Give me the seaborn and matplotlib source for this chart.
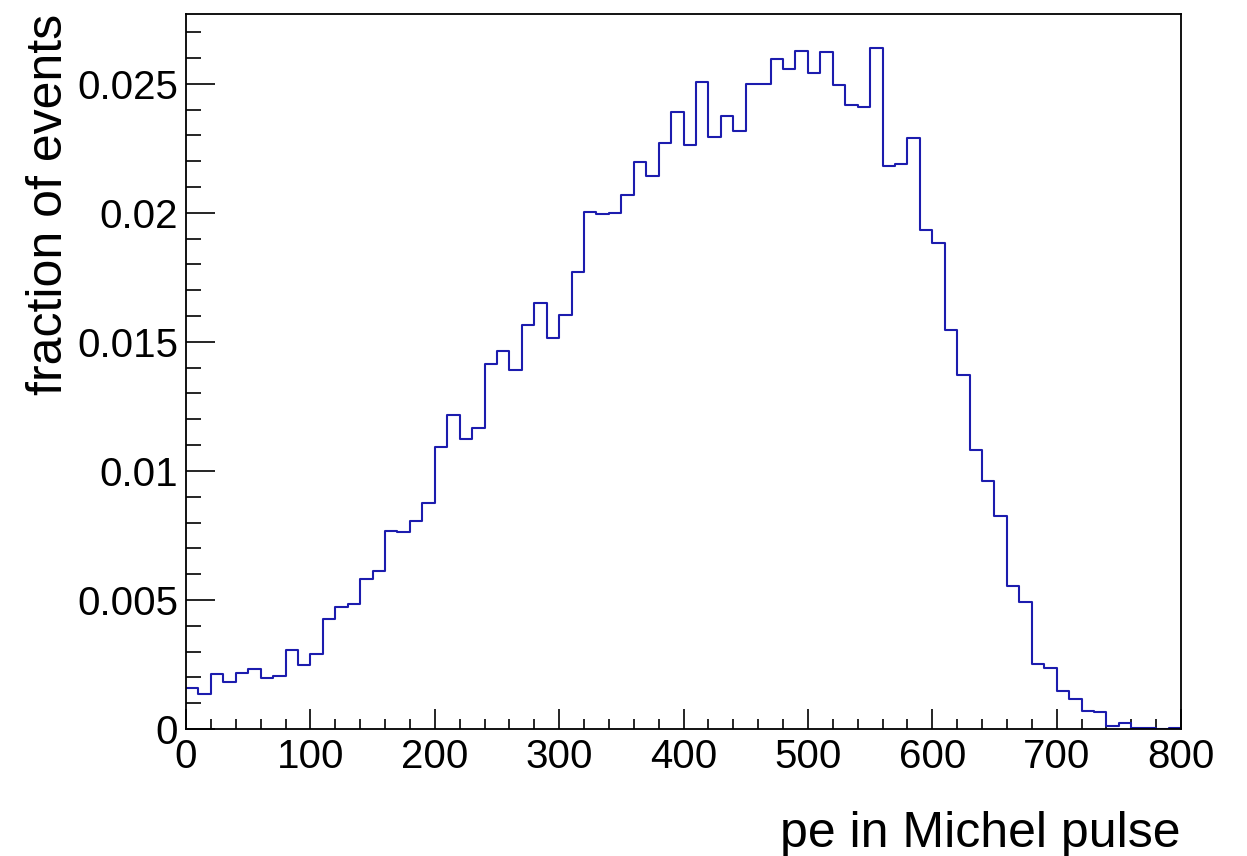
import numpy as np
import pandas as pd
import matplotlib
matplotlib.use("Agg")
import matplotlib.pyplot as plt
import seaborn as sns
from matplotlib.ticker import MultipleLocator, FuncFormatter

# ---- data ----
bin_edges = list(range(0, 810, 10))  # 80 bins of width 10 pe
fractions = [
    0.00160, 0.00134, 0.00213, 0.00183, 0.00217, 0.00234, 0.00196, 0.00205, 0.00307, 0.00249,
    0.00291, 0.00426, 0.00474, 0.00484, 0.00581, 0.00611, 0.00767, 0.00764, 0.00806, 0.00876,
    0.01094, 0.01217, 0.01123, 0.01168, 0.01413, 0.01466, 0.01389, 0.01566, 0.01651, 0.01516,
    0.01603, 0.01770, 0.02004, 0.01997, 0.02000, 0.02070, 0.02196, 0.02143, 0.02270, 0.02390,
    0.02261, 0.02508, 0.02295, 0.02376, 0.02315, 0.02500, 0.02500, 0.02594, 0.02557, 0.02625,
    0.02541, 0.02621, 0.02496, 0.02416, 0.02410, 0.02637, 0.02181, 0.02189, 0.02290, 0.01934,
    0.01881, 0.01544, 0.01372, 0.01081, 0.00962, 0.00827, 0.00554, 0.00491, 0.00253, 0.00238,
    0.00147, 0.00115, 0.00070, 0.00065, 0.00010, 0.00025, 0.00003, 0.00002, 0.00001, 0.00004,
]
x_ticks = [0, 100, 200, 300, 400, 500, 600, 700, 800]
y_ticks = [0, 0.005, 0.01, 0.015, 0.02, 0.025]
x_label = "pe in Michel pulse"
y_label = "fraction of events"

centers = [(a + b) / 2 for a, b in zip(bin_edges[:-1], bin_edges[1:])]
df = pd.DataFrame({"pe": centers, "frac": fractions})

sns.set_theme(style="white")
plt.rcParams["font.family"] = ["Liberation Sans", "DejaVu Sans"]

W, H = 1247, 856
fig = plt.figure(figsize=(W / 100, H / 100), dpi=100)
ax = fig.add_axes([186 / W, 1 - 729 / H, (1181 - 186) / W, (729 - 14) / H])

sns.histplot(data=df, x="pe", weights="frac", bins=bin_edges, element="step",
             fill=False, color="#1c1cae", linewidth=1.5, ax=ax)

ax.set_xlim(0, 800)
ax.set_ylim(0, 0.0277)

ax.xaxis.set_minor_locator(MultipleLocator(20))
ax.yaxis.set_minor_locator(MultipleLocator(0.001))
ax.set_xticks(x_ticks)
ax.set_yticks(y_ticks)
ax.yaxis.set_major_formatter(FuncFormatter(lambda v, p: "%g" % round(v, 4)))

ax.tick_params(which="both", direction="in", color="black", width=1.2,
               bottom=True, left=True, top=False, right=False)
ax.tick_params(which="major", labelsize=29, labelcolor="black")
ax.tick_params(axis="y", which="major", length=21, pad=5.8)
ax.tick_params(axis="y", which="minor", length=10.5)
ax.tick_params(axis="x", which="major", length=14.4, pad=6.3)
ax.tick_params(axis="x", which="minor", length=7)

for s in ax.spines.values():
    s.set_visible(True)
    s.set_color("black")
    s.set_linewidth(1.3)

ax.set_xlabel("")
ax.set_ylabel("")
fig.text(1180 / W, 1 - 847 / H, x_label, ha="right", va="baseline", fontsize=36, color="black")
fig.text(72.5 / W, 1 - 14 / H, y_label, ha="right", va="top", rotation=90, fontsize=36, color="black")

fig.savefig("out.png", dpi=100, facecolor="white")
